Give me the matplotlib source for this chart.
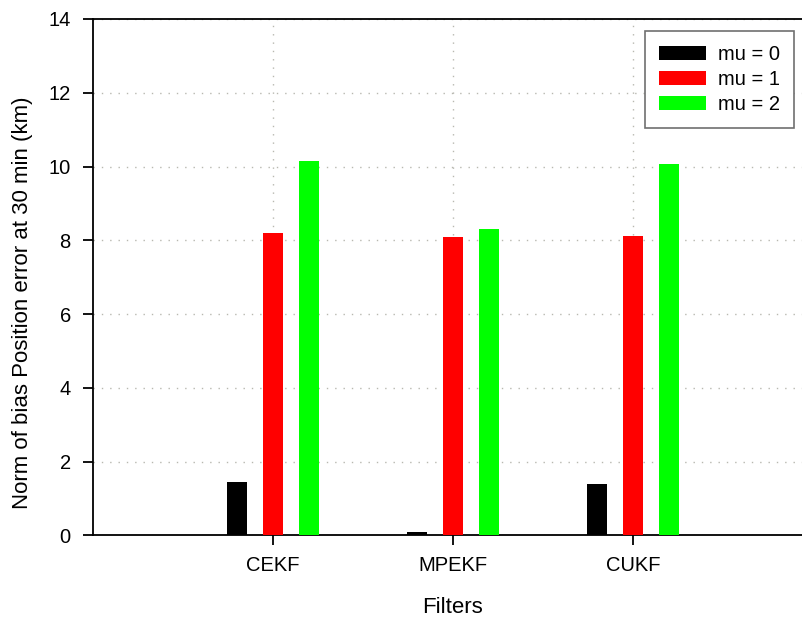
import numpy as np
import matplotlib.pyplot as plt

plt.rcParams['font.family'] = ['Liberation Sans', 'DejaVu Sans']

filters = ['CEKF', 'MPEKF', 'CUKF']
series = ['mu = 0', 'mu = 1', 'mu = 2']
mu0 = [1.44, 0.09, 1.39]
mu1 = [8.21, 8.10, 8.12]
mu2 = [10.14, 8.31, 10.07]
colors = ['#000000', '#ff0000', '#00ff00']

fig = plt.figure(figsize=(8.03, 6.18), dpi=100)
fig.patch.set_facecolor('white')
ax = fig.add_axes([93 / 803, 1 - 535.3 / 618, 720 / 803, (535.3 - 19) / 618])

x = np.arange(len(filters))
width = 0.116
offset = 0.2
for i, (vals, lab, c) in enumerate(zip([mu0, mu1, mu2], series, colors)):
    ax.bar(x + (i - 1) * offset, vals, width, color=c, label=lab, zorder=3)

ax.set_xlim(-1, 3)
ax.set_ylim(0, 14)
ax.set_yticks(np.arange(0, 15, 2))
ax.set_xticks(x)
ax.set_xticklabels(filters)

ax.grid(True, which='major', color='#b8b8b0', linestyle=(0, (1, 5)), linewidth=1, zorder=0)
ax.set_axisbelow(True)

ax.spines['right'].set_visible(False)
for s in ['left', 'bottom', 'top']:
    ax.spines[s].set_linewidth(1.3)

ax.tick_params(axis='both', direction='out', length=7, width=1.3, labelsize=14.5, pad=9)
ax.tick_params(axis='x', pad=8)

ax.set_xlabel('Filters', fontsize=16, labelpad=16)
ax.set_ylabel('Norm of bias Position error at 30 min (km)', fontsize=16)
ax.yaxis.set_label_coords(-0.0833, 0.45)

leg = ax.legend(loc='upper right', bbox_to_anchor=(794 / 803, 1 - 31 / 618),
                bbox_transform=fig.transFigure, fontsize=14.5, frameon=True,
                fancybox=False, edgecolor='#707070', framealpha=1,
                handlelength=2.3, handleheight=0.7, handletextpad=0.6,
                borderpad=0.7, labelspacing=0.3, borderaxespad=0)
leg.get_frame().set_linewidth(1.2)

fig.savefig('out.png', dpi=100)
